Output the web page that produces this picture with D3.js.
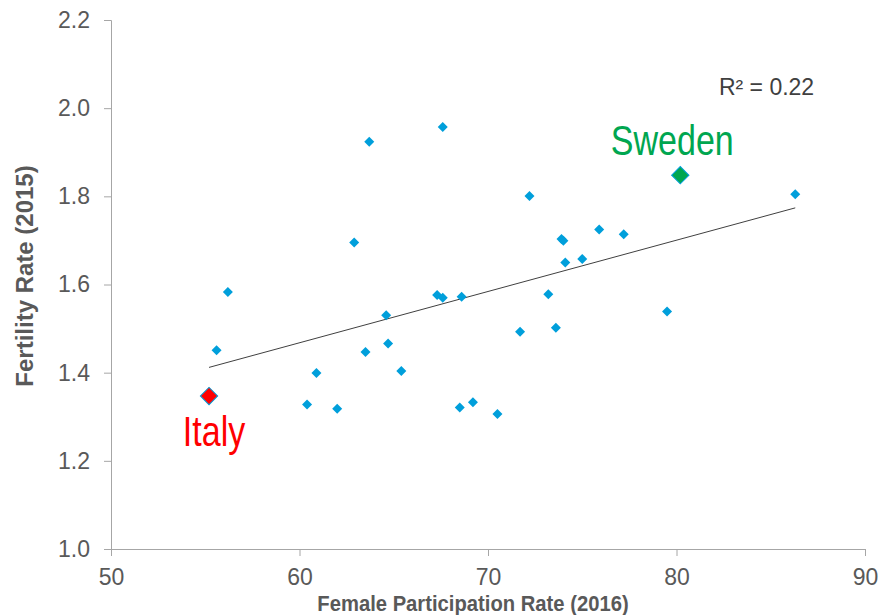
<!DOCTYPE html>
<meta charset="utf-8">
<style>
body { margin: 0; background: #fff; }
.tick text { font-family: "Liberation Sans", Arial, sans-serif; font-size: 23px; fill: #595959; }
.axis path, .axis line { stroke: #a6a6a6; }
.axis-title { font-family: "Liberation Sans", Arial, sans-serif; font-weight: bold; fill: #595959; }
.trend { fill: none; stroke: #404040; stroke-width: 1; }
.dot { fill: #009fdb; }
.callout { font-family: "Liberation Sans", Arial, sans-serif; font-size: 42px; }
</style>
<svg width="892" height="615"></svg>
<script src="https://d3js.org/d3.v7.min.js"></script>
<script>

// female participation rate 2016 (x) and fertility rate 2015 (y)
var participation = [67.6, 63.7, 86.3, 72.2, 75.9, 77.2, 73.9, 74.0, 62.9, 75.0,
                     74.1, 56.2, 67.3, 67.6, 68.6, 73.2, 64.6, 79.5, 71.7, 73.6,
                     64.7, 63.5, 55.6, 60.9, 65.4, 60.4, 62.0, 68.5, 69.2, 70.5];
var fertility     = [1.957, 1.924, 1.805, 1.801, 1.725, 1.714, 1.703, 1.699, 1.695, 1.658,
                     1.650, 1.583, 1.576, 1.570, 1.572, 1.578, 1.530, 1.539, 1.493, 1.502,
                     1.466, 1.447, 1.451, 1.399, 1.404, 1.328, 1.318, 1.321, 1.333, 1.306];

var highlightNames = ["Italy", "Sweden"];
var highlightX = [55.2, 80.2];
var highlightY = [1.347, 1.848];
var highlightColors = ["#ff0000", "#00a650"];

var xTicks = [50, 60, 70, 80, 90];
var yTicks = [1.0, 1.2, 1.4, 1.6, 1.8, 2.0, 2.2];
var rSquaredLabel = "R² = 0.22";

var svg = d3.select("svg"),
    margin = {top: 20, right: 27, bottom: 66, left: 111},
    width = +svg.attr("width") - margin.left - margin.right,
    height = +svg.attr("height") - margin.top - margin.bottom;

var g = svg.append("g").attr("transform", "translate(" + margin.left + "," + margin.top + ")");

var x = d3.scaleLinear().domain([50, 90]).range([0, width]);
var y = d3.scaleLinear().domain([1.0, 2.2]).range([height, 0]);

var points = participation.map(function(v, i) { return {x: v, y: fertility[i]}; });
var highlights = highlightNames.map(function(n, i) {
  return {name: n, x: highlightX[i], y: highlightY[i], color: highlightColors[i]};
});

// linear trend over all countries
var all = points.concat(highlights);
var mx = d3.mean(all, function(d) { return d.x; }),
    my = d3.mean(all, function(d) { return d.y; });
var slope = d3.sum(all, function(d) { return (d.x - mx) * (d.y - my); }) /
            d3.sum(all, function(d) { return (d.x - mx) * (d.x - mx); });
var intercept = my - slope * mx;
var xExt = d3.extent(all, function(d) { return d.x; });

g.append("g")
    .attr("class", "axis")
    .attr("transform", "translate(0," + height + ")")
    .call(d3.axisBottom(x).tickValues(xTicks).tickSizeOuter(0).tickSize(7).tickPadding(13).tickFormat(d3.format("d")));

g.append("g")
    .attr("class", "axis")
    .call(d3.axisLeft(y).tickValues(yTicks).tickSizeOuter(0).tickSize(7).tickPadding(14).tickFormat(d3.format(".1f")));

g.selectAll(".axis .domain").attr("stroke", "#a6a6a6");

g.append("line")
    .attr("class", "trend")
    .attr("x1", x(xExt[0])).attr("y1", y(intercept + slope * xExt[0]))
    .attr("x2", x(xExt[1])).attr("y2", y(intercept + slope * xExt[1]));

var small = d3.symbol().type(d3.symbolSquare).size(50);
var big = d3.symbol().type(d3.symbolSquare).size(150);

g.selectAll(".dot")
    .data(points)
  .enter().append("path")
    .attr("class", "dot")
    .attr("d", small)
    .attr("transform", function(d) { return "translate(" + x(d.x) + "," + y(d.y) + ") rotate(45)"; });

g.selectAll(".hl")
    .data(highlights)
  .enter().append("path")
    .attr("class", "hl")
    .attr("d", big)
    .attr("fill", function(d) { return d.color; })
    .attr("stroke", "#009fdb")
    .attr("stroke-width", 1)
    .attr("transform", function(d) { return "translate(" + x(d.x) + "," + y(d.y) + ") rotate(45)"; });

// narrow callout labels
g.selectAll(".callout")
    .data(highlights)
  .enter().append("text")
    .attr("class", "callout")
    .attr("text-anchor", "middle")
    .attr("fill", function(d) { return d.color; })
    .attr("transform", function(d) {
      var tx = x(d.x) + (d.name === "Italy" ? 5 : -8),
          ty = d.name === "Italy" ? y(d.y) + 50 : y(d.y) - 20;
      return "translate(" + tx + "," + ty + ") scale(0.81,1)";
    })
    .text(function(d) { return d.name; });

g.append("text")
    .attr("x", x(82.25)).attr("y", y(2.03))
    .attr("font-family", "Liberation Sans, Arial, sans-serif")
    .attr("font-size", 23)
    .attr("fill", "#404040")
    .text(rSquaredLabel);

svg.append("text")
    .attr("class", "axis-title")
    .attr("font-size", 22)
    .attr("text-anchor", "middle")
    .attr("transform", "translate(473,611) scale(0.92,1)")
    .text("Female Participation Rate (2016)");

svg.append("text")
    .attr("class", "axis-title")
    .attr("font-size", 24)
    .attr("text-anchor", "middle")
    .attr("transform", "translate(33,276) rotate(-90)")
    .text("Fertility Rate (2015)");

</script>
